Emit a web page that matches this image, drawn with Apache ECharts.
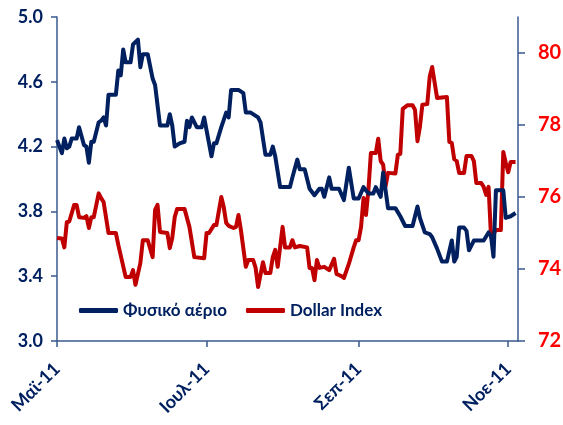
<!DOCTYPE html>
<html>
<head>
<meta charset="utf-8">
<script src="https://cdn.jsdelivr.net/npm/echarts@6/dist/echarts.min.js"></script>
<style>
html,body{margin:0;padding:0;background:#fff;}
#chart{width:563px;height:425px;}
</style>
</head>
<body>
<div id="chart"></div>
<script>
// Natural gas (left axis)
var gasDates = ['2011-05-01','2011-05-03','2011-05-04','2011-05-05','2011-05-06','2011-05-07','2011-05-09','2011-05-10','2011-05-12','2011-05-13','2011-05-14','2011-05-15','2011-05-16','2011-05-18','2011-05-19','2011-05-20','2011-05-21','2011-05-22','2011-05-25','2011-05-26','2011-05-27','2011-05-28','2011-05-29','2011-05-31','2011-06-01','2011-06-03','2011-06-04','2011-06-05','2011-06-07','2011-06-09','2011-06-10','2011-06-12','2011-06-15','2011-06-16','2011-06-17','2011-06-18','2011-06-20','2011-06-22','2011-06-23','2011-06-24','2011-06-25','2011-06-27','2011-06-29','2011-06-30','2011-07-01','2011-07-03','2011-07-04','2011-07-05','2011-07-07','2011-07-09','2011-07-10','2011-07-11','2011-07-14','2011-07-16','2011-07-17','2011-07-19','2011-07-22','2011-07-23','2011-07-25','2011-07-27','2011-07-28','2011-07-29','2011-07-31','2011-08-04','2011-08-05','2011-08-07','2011-08-08','2011-08-10','2011-08-12','2011-08-14','2011-08-16','2011-08-17','2011-08-18','2011-08-20','2011-08-21','2011-08-24','2011-08-26','2011-08-28','2011-08-30','2011-09-01','2011-09-03','2011-09-05','2011-09-07','2011-09-08','2011-09-10','2011-09-11','2011-09-13','2011-09-16','2011-09-18','2011-09-20','2011-09-23','2011-09-25','2011-09-26','2011-09-28','2011-09-30','2011-10-01','2011-10-03','2011-10-05','2011-10-07','2011-10-09','2011-10-10','2011-10-11','2011-10-12','2011-10-14','2011-10-15','2011-10-16','2011-10-18','2011-10-22','2011-10-24','2011-10-25','2011-10-26','2011-10-27','2011-10-30','2011-10-31','2011-11-02','2011-11-04'];
var gasValues = [4.24,4.16,4.25,4.19,4.20,4.25,4.25,4.32,4.21,4.20,4.10,4.23,4.23,4.35,4.36,4.38,4.33,4.52,4.52,4.67,4.64,4.80,4.72,4.72,4.83,4.86,4.69,4.77,4.77,4.62,4.58,4.33,4.33,4.40,4.33,4.20,4.22,4.23,4.36,4.32,4.38,4.32,4.32,4.38,4.30,4.14,4.22,4.22,4.32,4.41,4.38,4.55,4.55,4.53,4.41,4.41,4.38,4.35,4.15,4.15,4.20,4.14,3.95,3.95,4.01,4.12,4.06,4.06,3.94,3.90,3.94,3.94,3.89,4.01,3.94,3.94,3.87,4.07,3.88,3.88,3.95,3.91,3.91,3.95,3.89,4.04,3.82,3.82,3.77,3.71,3.71,3.83,3.76,3.67,3.66,3.64,3.57,3.49,3.49,3.62,3.49,3.52,3.70,3.70,3.68,3.56,3.62,3.62,3.67,3.65,3.52,3.93,3.93,3.76,3.77,3.79];

// Dollar Index (right axis)
var dxDates = ['2011-05-01','2011-05-03','2011-05-04','2011-05-05','2011-05-06','2011-05-08','2011-05-09','2011-05-10','2011-05-12','2011-05-13','2011-05-14','2011-05-15','2011-05-16','2011-05-18','2011-05-19','2011-05-20','2011-05-22','2011-05-25','2011-05-26','2011-05-29','2011-05-31','2011-06-01','2011-06-02','2011-06-04','2011-06-05','2011-06-07','2011-06-09','2011-06-10','2011-06-11','2011-06-12','2011-06-15','2011-06-16','2011-06-17','2011-06-18','2011-06-19','2011-06-22','2011-06-24','2011-06-26','2011-06-30','2011-07-01','2011-07-02','2011-07-04','2011-07-05','2011-07-07','2011-07-08','2011-07-09','2011-07-10','2011-07-12','2011-07-13','2011-07-14','2011-07-15','2011-07-17','2011-07-18','2011-07-20','2011-07-21','2011-07-22','2011-07-24','2011-07-25','2011-07-27','2011-07-28','2011-07-29','2011-07-30','2011-08-01','2011-08-02','2011-08-04','2011-08-05','2011-08-06','2011-08-08','2011-08-11','2011-08-12','2011-08-13','2011-08-14','2011-08-15','2011-08-16','2011-08-18','2011-08-20','2011-08-22','2011-08-23','2011-08-25','2011-08-26','2011-08-28','2011-08-30','2011-08-31','2011-09-01','2011-09-02','2011-09-03','2011-09-04','2011-09-05','2011-09-06','2011-09-08','2011-09-09','2011-09-10','2011-09-11','2011-09-12','2011-09-13','2011-09-16','2011-09-17','2011-09-18','2011-09-19','2011-09-21','2011-09-23','2011-09-24','2011-09-25','2011-09-26','2011-09-27','2011-09-29','2011-09-30','2011-10-01','2011-10-03','2011-10-07','2011-10-08','2011-10-09','2011-10-10','2011-10-11','2011-10-12','2011-10-14','2011-10-15','2011-10-17','2011-10-18','2011-10-19','2011-10-21','2011-10-22','2011-10-23','2011-10-24','2011-10-25','2011-10-27','2011-10-29','2011-10-30','2011-10-31','2011-11-01','2011-11-02','2011-11-04'];
var dxValues = [74.86,74.85,74.60,75.30,75.32,75.78,75.78,75.44,75.42,75.47,75.14,75.44,75.44,76.10,75.97,75.86,75.00,75.00,74.67,73.78,73.78,73.97,73.56,74.17,74.80,74.80,74.33,75.64,75.78,75.03,75.00,74.58,74.86,75.44,75.67,75.67,75.17,74.33,74.30,75.00,75.00,75.22,75.22,76.00,75.72,75.28,75.20,75.14,75.17,75.50,75.08,74.06,74.25,74.25,74.03,73.50,74.19,73.89,73.89,74.33,74.53,74.06,75.17,74.60,74.60,74.80,74.60,74.64,74.60,74.03,74.03,73.69,74.25,74.03,74.06,73.97,74.28,73.86,73.80,73.75,74.14,74.60,74.80,74.80,75.17,75.97,75.50,76.20,77.22,77.22,77.62,77.00,76.90,76.30,76.67,76.65,77.17,77.20,78.45,78.55,78.55,78.42,77.55,77.95,78.56,78.58,79.35,79.61,78.75,78.78,77.53,77.50,77.05,77.00,76.67,76.67,77.14,77.14,77.00,76.39,76.39,76.28,76.06,76.28,74.89,75.08,75.08,77.25,76.95,76.69,76.97,76.97];

var seriesNames = ['Φυσικό αέριο', 'Dollar Index'];
var xTickDates = ['2011-05-01','2011-07-01','2011-09-01','2011-11-01'];
var xTickLabels = ['Μαϊ-11','Ιουλ-11','Σεπ-11','Νοε-11'];
var leftTicks = [3.0, 3.4, 3.8, 4.2, 4.6, 5.0];
var rightTicks = [72, 74, 76, 78, 80];

var NAVY = '#002060', RED = '#C00000', AXIS = '#3A5A8E';
var FONT = 'Lato, "Noto Sans", sans-serif';

function ts(s) { return echarts.time.parse(s).getTime(); }
var xTickTs = xTickDates.map(ts);

function pairs(d, v) { return d.map(function (s, i) { return [ts(s), v[i]]; }); }

var chart = echarts.init(document.getElementById('chart'), null, { renderer: 'canvas' });
chart.setOption({
  animation: false,
  backgroundColor: '#fff',
  grid: { left: 57, right: 45, top: 17, bottom: 84, containLabel: false, outerBoundsMode: 'none' },
  legend: {
    left: 74, top: 297,
    icon: 'roundRect',
    itemWidth: 39, itemHeight: 5, itemGap: 19,
    textStyle: { color: NAVY, fontWeight: 'bold', fontSize: 17, fontFamily: FONT },
    data: seriesNames
  },
  xAxis: {
    type: 'value',
    min: ts('2011-05-01'), max: ts('2011-11-05'),
    splitLine: { show: false },
    axisLine: { lineStyle: { color: AXIS, width: 1.5 } },
    axisTick: { show: true, length: 6, lineStyle: { color: AXIS, width: 1.5 }, customValues: xTickTs },
    axisLabel: {
      customValues: xTickTs,
      rotate: 45, margin: 25,
      color: NAVY, fontWeight: 'bold', fontSize: 18, fontFamily: FONT,
      formatter: function (v) {
        for (var i = 0; i < xTickTs.length; i++) { if (Math.abs(xTickTs[i] - v) < 43200000) return xTickLabels[i]; }
        return '';
      }
    }
  },
  yAxis: [{
    type: 'value', position: 'left', min: 3, max: 5,
    splitLine: { show: false },
    axisLine: { show: true, lineStyle: { color: AXIS, width: 1.5 } },
    axisTick: { show: true, length: 6, lineStyle: { color: AXIS, width: 1.5 }, customValues: leftTicks },
    axisLabel: {
      customValues: leftTicks, margin: 14,
      color: NAVY, fontWeight: 'bold', fontSize: 18, fontFamily: FONT,
      formatter: function (v) { return v.toFixed(1); }
    }
  }, {
    type: 'value', position: 'right', min: 72, max: 81,
    splitLine: { show: false },
    axisLine: { show: true, lineStyle: { color: AXIS, width: 1.5 } },
    axisTick: { show: true, length: 7, lineStyle: { color: AXIS, width: 1.5 }, customValues: rightTicks },
    axisLabel: {
      customValues: rightTicks, margin: 20,
      color: '#FF0000', fontWeight: 'bold', fontSize: 20, fontFamily: FONT
    }
  }],
  series: [{
    name: seriesNames[0], type: 'line', yAxisIndex: 0,
    data: pairs(gasDates, gasValues),
    symbol: 'none', lineStyle: { color: NAVY, width: 4, join: 'round' }, itemStyle: { color: NAVY },
    z: 3
  }, {
    name: seriesNames[1], type: 'line', yAxisIndex: 1,
    data: pairs(dxDates, dxValues),
    symbol: 'none', lineStyle: { color: RED, width: 4, join: 'round' }, itemStyle: { color: RED },
    z: 2
  }]
});
</script>
</body>
</html>
